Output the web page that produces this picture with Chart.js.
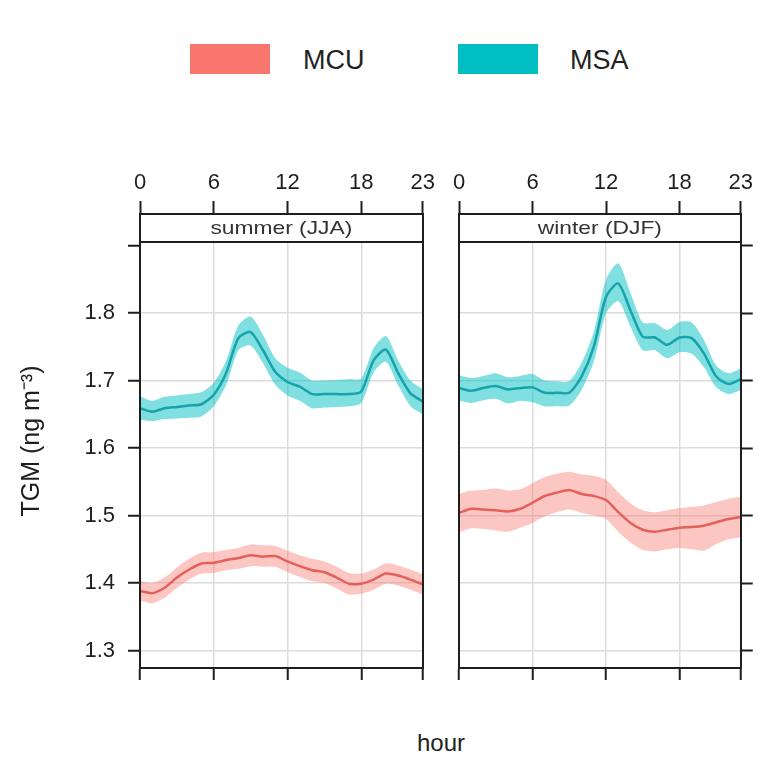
<!DOCTYPE html>
<html>
<head>
<meta charset="utf-8">
<script src="https://cdn.jsdelivr.net/npm/chart.js@4.4.1/dist/chart.umd.min.js"></script>
<style>
  body { margin: 0; background: #fff; }
  #wrap { position: relative; width: 758px; height: 757px; overflow: hidden;
          font-family: "Liberation Sans", Arial, sans-serif; color: #222; }
  #wrap canvas { position: absolute; }
  .swatch { position: absolute; height: 30px; }
  .keytext { position: absolute; font-size: 27px; line-height: 30px; }
  #xtitle { position: absolute; left: 0; width: 882px; top: 729px; text-align: center; font-size: 24px; }
</style>
</head>
<body>
<div id="wrap">
  <div class="swatch" style="left:190px; top:44px; width:80px; background:#F8766D;"></div>
  <div class="keytext" style="left:303px; top:45px;">MCU</div>
  <div class="swatch" style="left:458px; top:44px; width:80px; background:#00BFC4;"></div>
  <div class="keytext" style="left:570px; top:45px;">MSA</div>
  <canvas id="summer" width="440" height="548" style="left:0px; top:150px;"></canvas>
  <canvas id="winter" width="314" height="548" style="left:444px; top:150px;"></canvas>
  <div id="xtitle">hour</div>
</div>
<script>
// Hour of day and axis ticks
const hours  = [0,1,2,3,4,5,6,7,8,9,10,11,12,13,14,15,16,17,18,19,20,21,22,23];
const xTicks = [0, 6, 12, 18, 23];
const yTicks = [1.3, 1.4, 1.5, 1.6, 1.7, 1.8, 1.9];
const seriesNames = ['MCU', 'MSA'];
const panelNames  = ['summer (JJA)', 'winter (DJF)'];

// Summer (JJA) diurnal means with their lower / upper confidence limits, ng m-3
const mcuSummer   = [1.388,1.385,1.393,1.408,1.420,1.429,1.430,1.434,1.437,1.441,1.439,1.440,1.432,1.425,1.419,1.416,1.408,1.399,1.399,1.405,1.414,1.411,1.405,1.398];
const mcuSummerLo = [1.374,1.370,1.378,1.393,1.405,1.414,1.415,1.419,1.421,1.425,1.424,1.424,1.416,1.409,1.403,1.400,1.392,1.383,1.384,1.390,1.399,1.396,1.390,1.383];
const mcuSummerHi = [1.403,1.400,1.408,1.423,1.436,1.445,1.446,1.449,1.452,1.457,1.456,1.455,1.448,1.441,1.436,1.432,1.424,1.415,1.414,1.420,1.429,1.426,1.420,1.413];
const msaSummer   = [1.659,1.654,1.659,1.661,1.663,1.665,1.679,1.711,1.763,1.772,1.745,1.713,1.698,1.691,1.680,1.680,1.680,1.680,1.684,1.730,1.746,1.711,1.681,1.669];
const msaSummerLo = [1.642,1.640,1.643,1.644,1.645,1.647,1.662,1.693,1.745,1.752,1.726,1.694,1.678,1.670,1.659,1.660,1.661,1.662,1.667,1.712,1.728,1.693,1.662,1.650];
const msaSummerHi = [1.677,1.670,1.676,1.678,1.680,1.683,1.697,1.729,1.782,1.795,1.768,1.733,1.719,1.712,1.700,1.700,1.701,1.702,1.703,1.748,1.766,1.730,1.700,1.687];

// Winter (DJF) diurnal means with their lower / upper confidence limits, ng m-3
const mcuWinter   = [1.504,1.510,1.509,1.508,1.506,1.510,1.519,1.529,1.534,1.538,1.532,1.529,1.523,1.505,1.489,1.479,1.476,1.479,1.482,1.483,1.485,1.490,1.495,1.498];
const mcuWinterLo = [1.475,1.481,1.480,1.478,1.476,1.482,1.489,1.499,1.505,1.509,1.504,1.500,1.495,1.476,1.460,1.449,1.447,1.450,1.452,1.450,1.448,1.458,1.465,1.468];
const mcuWinterHi = [1.532,1.537,1.538,1.540,1.537,1.539,1.548,1.557,1.562,1.565,1.561,1.559,1.553,1.534,1.518,1.508,1.505,1.508,1.511,1.513,1.515,1.520,1.525,1.528];
const msaWinter   = [1.689,1.685,1.689,1.692,1.687,1.689,1.690,1.682,1.682,1.682,1.706,1.750,1.824,1.844,1.804,1.765,1.764,1.753,1.764,1.763,1.740,1.706,1.695,1.702];
const msaWinterLo = [1.670,1.667,1.671,1.673,1.666,1.670,1.668,1.662,1.662,1.663,1.686,1.728,1.800,1.818,1.780,1.745,1.745,1.733,1.742,1.740,1.720,1.690,1.680,1.686];
const msaWinterHi = [1.708,1.704,1.707,1.711,1.705,1.707,1.710,1.700,1.699,1.699,1.726,1.772,1.850,1.874,1.830,1.786,1.785,1.775,1.787,1.786,1.760,1.722,1.711,1.718];

const FONT = '"Liberation Sans", Arial, sans-serif';
const INK = '#1e1e1e';
const GRID = '#dcdcdc';
const Y_MIN = 1.274, Y_MAX = 1.947;

const pts = arr => hours.map((h, i) => ({ x: h, y: arr[i] }));
const fixTicks = list => scale => { scale.ticks = list.map(v => ({ value: v })); };

// Panel header strip drawn across the top of the plotting area
const stripPlugin = {
  id: 'strip',
  afterDatasetsDraw(chart, args, opts) {
    const { ctx, chartArea: a } = chart;
    const h = opts.height;
    ctx.save();
    ctx.fillStyle = '#fff';
    ctx.fillRect(a.left, a.top, a.right - a.left, h);
    ctx.strokeStyle = INK;
    ctx.lineWidth = 2;
    ctx.beginPath();
    ctx.moveTo(a.left, a.top + h);
    ctx.lineTo(a.right, a.top + h);
    ctx.stroke();
    ctx.fillStyle = '#333';
    ctx.font = '19px ' + FONT;
    ctx.textAlign = 'center';
    ctx.textBaseline = 'middle';
    ctx.translate((a.left + a.right) / 2, a.top + h / 2 + 1);
    ctx.scale(1.2, 1);
    ctx.fillText(opts.text, 0, 0);
    ctx.restore();
  }
};

function band(label, data, color, fillTarget) {
  return {
    label, data: pts(data), borderWidth: 0, pointRadius: 0,
    backgroundColor: color, fill: fillTarget === undefined ? false : fillTarget,
    tension: 0.25
  };
}

function line(label, data, color) {
  return {
    label, data: pts(data), borderColor: color, borderWidth: 2.5,
    pointRadius: 0, fill: false, tension: 0.25
  };
}

function makePanel(id, title, mcu, mcuLo, mcuHi, msa, msaLo, msaHi, isLeft) {
  const border = { color: INK, width: 2, z: 1 };
  new Chart(document.getElementById(id), {
    type: 'line',
    data: {
      datasets: [
        line(seriesNames[0], mcu, '#E4615A'),
        line(seriesNames[1], msa, '#16A3A9'),
        band(seriesNames[0] + ' low', mcuLo, 'rgba(0,0,0,0)'),
        band(seriesNames[0] + ' high', mcuHi, 'rgba(248,118,109,0.42)', 2),
        band(seriesNames[1] + ' low', msaLo, 'rgba(0,0,0,0)'),
        band(seriesNames[1] + ' high', msaHi, 'rgba(0,191,196,0.5)', 4)
      ]
    },
    options: {
      responsive: false,
      animation: false,
      layout: { padding: 0 },
      plugins: {
        legend: { display: false },
        tooltip: { enabled: false },
        strip: { text: title, height: 28 }
      },
      scales: {
        x: {
          type: 'linear', position: 'bottom', min: 0, max: 23,
          afterBuildTicks: fixTicks(xTicks),
          afterFit: s => { s.height = 30; },
          ticks: { display: false },
          grid: { color: GRID, lineWidth: 1.5, tickColor: INK, tickLength: 12, tickWidth: 2 },
          border
        },
        xTop: {
          type: 'linear', position: 'top', min: 0, max: 23,
          afterBuildTicks: fixTicks(xTicks),
          afterFit: s => { s.height = 64; },
          ticks: { color: INK, font: { family: FONT, size: 22 }, padding: 5, autoSkip: false, maxRotation: 0 },
          grid: { drawOnChartArea: false, tickColor: INK, tickLength: 13, tickWidth: 2 },
          border
        },
        y: {
          type: 'linear', position: 'left', min: Y_MIN, max: Y_MAX,
          afterBuildTicks: fixTicks(yTicks),
          afterFit: s => { s.width = isLeft ? 140 : 15; },
          ticks: {
            display: isLeft, color: INK, font: { family: FONT, size: 22 }, padding: 13,
            callback: v => (v > 1.85 ? '' : v.toFixed(1))
          },
          grid: {
            color: c => (c.tick && c.tick.value > 1.85 ? 'rgba(0,0,0,0)' : GRID),
            lineWidth: 1.5,
            tickColor: isLeft ? INK : 'rgba(0,0,0,0)', tickLength: 12, tickWidth: 2
          },
          title: {
            display: isLeft, text: 'TGM (ng m\u207B\u00B3)', color: INK,
            font: { family: FONT, size: 25 }, padding: { top: 17, bottom: 0 }
          },
          border
        },
        yRight: {
          type: 'linear', position: 'right', min: Y_MIN, max: Y_MAX,
          afterBuildTicks: fixTicks(yTicks),
          afterFit: s => { s.width = isLeft ? 17 : 15; },
          ticks: { display: false },
          grid: { drawOnChartArea: false, tickColor: isLeft ? 'rgba(0,0,0,0)' : INK, tickLength: 12, tickWidth: 2 },
          border
        }
      }
    },
    plugins: [stripPlugin]
  });
}

makePanel('summer', panelNames[0], mcuSummer, mcuSummerLo, mcuSummerHi, msaSummer, msaSummerLo, msaSummerHi, true);
makePanel('winter', panelNames[1], mcuWinter, mcuWinterLo, mcuWinterHi, msaWinter, msaWinterLo, msaWinterHi, false);
</script>
</body>
</html>
